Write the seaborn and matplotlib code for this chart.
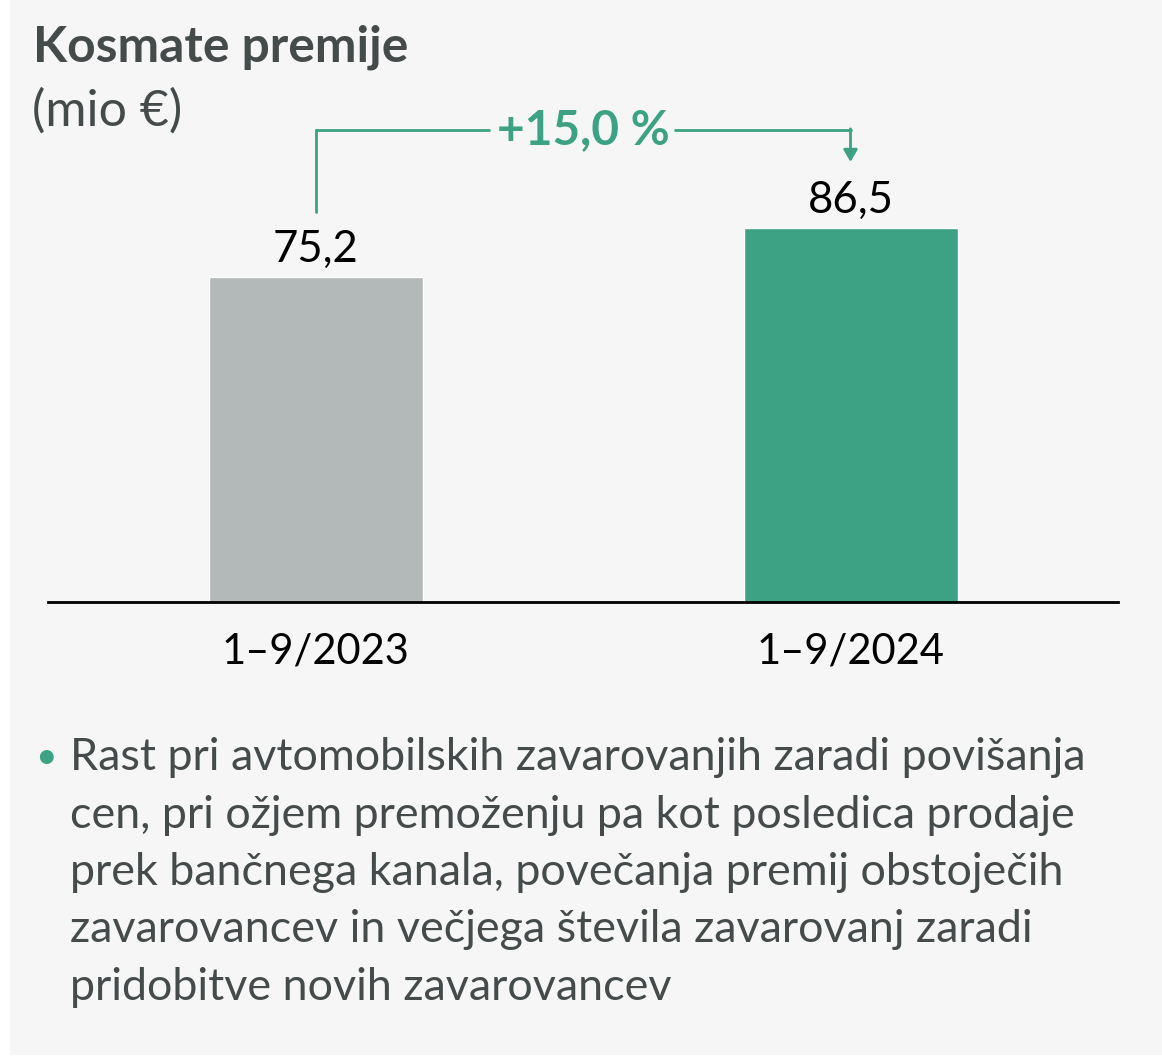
import matplotlib
matplotlib.use("Agg")
import matplotlib.pyplot as plt
from matplotlib.patches import Rectangle
import seaborn as sns

# data
periods = ["1–9/2023", "1–9/2024"]
premiums = [75.2, 86.5]
growth_label = "+15,0 %"
title = "Kosmate premije"
unit = "(mio €)"
note_lines = [
    "Rast pri avtomobilskih zavarovanjih zaradi povišanja",
    "cen, pri ožjem premoženju pa kot posledica prodaje",
    "prek bančnega kanala, povečanja premij obstoječih",
    "zavarovancev in večjega števila zavarovanj zaradi",
    "pridobitve novih zavarovancev",
]

GRAY = "#b3b9b8"
GREEN = "#3ca283"
DARK = "#454b4b"
BG = "#f6f6f6"

sns.set_theme(style="white")
plt.rcParams["font.family"] = ["Lato", "DejaVu Sans"]

W, H = 1162, 1058
fig = plt.figure(figsize=(W / 100, H / 100), dpi=100)
fig.patch.set_facecolor("white")


def fx(px):
    return px / W


def fy(py):
    return 1 - py / H


# grey panel behind everything
fig.patches.append(Rectangle((fx(10), fy(1055)), 1, fy(0) - fy(1055) + 0.01,
                             transform=fig.transFigure, facecolor=BG,
                             edgecolor="none", zorder=-10))

ax = fig.add_axes([fx(48), fy(602), fx(1118) - fx(48), fy(100) - fy(602)])
ax.set_facecolor("none")

sns.barplot(x=periods, y=premiums, hue=periods, palette=[GRAY, GREEN],
            legend=False, width=0.4, saturation=1, ax=ax)

ax.set_xlim(-0.5, 1.5)
ax.set_ylim(0, (602 - 100) / 4.323)
for s in ["top", "right", "left"]:
    ax.spines[s].set_visible(False)
ax.spines["bottom"].set_color("black")
ax.spines["bottom"].set_linewidth(2)
ax.set_yticks([])
ax.set_xlabel("")
ax.set_ylabel("")
ax.tick_params(axis="x", length=0, pad=22, labelsize=30, labelcolor="black")

for c in ax.containers:
    ax.bar_label(c, labels=[f"{v:.1f}".replace(".", ",") for v in c.datavalues],
                 padding=5, fontsize=31.5, color="black")

# growth bracket
y_top = premiums[1] + 22.7
ax.plot([0, 0], [premiums[0] + 15.0, y_top], color=GREEN, lw=2, clip_on=False)
ax.plot([0, 0.325], [y_top, y_top], color=GREEN, lw=2, clip_on=False)
ax.plot([0.672, 1], [y_top, y_top], color=GREEN, lw=2, clip_on=False)
ax.annotate("", xy=(1, premiums[1] + 15.3), xytext=(1, y_top + 0.25),
            arrowprops=dict(arrowstyle="-|>,head_length=0.6,head_width=0.35",
                            color=GREEN, lw=2, shrinkA=0, shrinkB=0),
            annotation_clip=False)
ax.text(0.5, y_top, growth_label, ha="center", va="center", fontsize=34.4,
        fontweight="bold", color=GREEN)

# titles
fig.text(fx(33), fy(47), title, fontsize=35.8, fontweight="bold", color=DARK,
         va="center", ha="left")
fig.text(fx(32), fy(111), unit, fontsize=36, color=DARK, va="center", ha="left")

# bullet note
fig.text(fx(35), fy(757), "•", fontsize=27, color=GREEN, va="center", ha="left")
for i, line in enumerate(note_lines):
    fig.text(fx(70), fy(758 + i * 57.3), line, fontsize=32.3, color=DARK,
             va="center", ha="left")

fig.savefig("out.png", dpi=100, facecolor=fig.get_facecolor())
